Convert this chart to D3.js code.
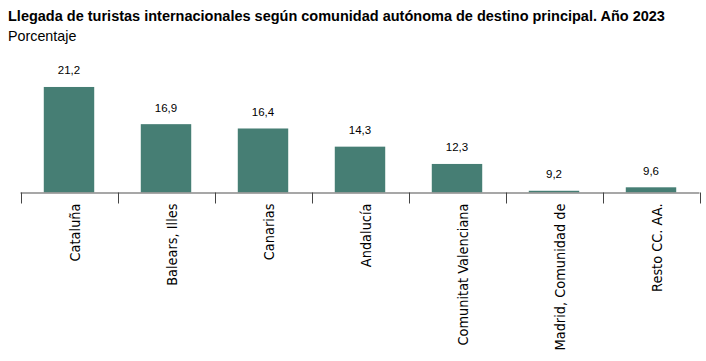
<!DOCTYPE html>
<html>
<head>
<meta charset="utf-8">
<script src="https://cdn.jsdelivr.net/npm/d3@7"></script>
<style>
  body { margin: 0; background: #fff; }
  svg { display: block; }
</style>
</head>
<body>
<div id="chart"></div>
<script>
const WIDTH = 706;
const HEIGHT = 361;

// data
const categories = ["Cataluña", "Balears, Illes", "Canarias", "Andalucía",
    "Comunitat Valenciana", "Madrid, Comunidad de", "Resto CC. AA."];
const values = [21.2, 16.9, 16.4, 14.3, 12.3, 9.2, 9.6];
const valueLabels = ["21,2", "16,9", "16,4", "14,3", "12,3", "9,2", "9,6"];

const TITLE = "Llegada de turistas internacionales según comunidad autónoma de destino principal. Año 2023";
const SUBTITLE = "Porcentaje";

const svg = d3.select("#chart")
    .append("svg")
    .attr("width", WIDTH)
    .attr("height", HEIGHT);

// title + subtitle
svg.append("text")
    .attr("x", 8)
    .attr("y", 20.5)
    .attr("font-family", "Liberation Sans, Arial, sans-serif")
    .attr("font-weight", "bold")
    .attr("font-size", "14.5px")
    .attr("fill", "#000")
    .text(TITLE);

svg.append("text")
    .attr("x", 8)
    .attr("y", 40.5)
    .attr("font-family", "Liberation Sans, Arial, sans-serif")
    .attr("font-size", "14.3px")
    .attr("fill", "#000")
    .text(SUBTITLE);

// scales (axis starts at 9, not zero)
const X_SCALE = d3.scaleBand()
    .domain(categories)
    .range([20.5, 699.5])
    .paddingInner(0.48)
    .paddingOuter(0.24);

const BASE_Y = 192.5;
const Y_SCALE = d3.scaleLinear()
    .domain([9, 24])
    .range([BASE_Y, BASE_Y - 15 * 8.65]);

const step = X_SCALE.step();
const gap = X_SCALE.paddingInner() * step;

// bars
svg.selectAll(".bar")
    .data(values)
    .enter()
    .append("rect")
    .attr("class", "bar")
    .attr("x", (d, i) => X_SCALE(categories[i]))
    .attr("y", (d) => Y_SCALE(d))
    .attr("width", X_SCALE.bandwidth())
    .attr("height", (d) => BASE_Y - Y_SCALE(d))
    .attr("fill", "#467e74");

// value labels
svg.selectAll(".val")
    .data(values)
    .enter()
    .append("text")
    .attr("class", "val")
    .attr("x", (d, i) => X_SCALE(categories[i]) + X_SCALE.bandwidth() / 2)
    .attr("y", (d) => Y_SCALE(d) - 12.5)
    .attr("text-anchor", "middle")
    .attr("font-family", "Liberation Sans, Arial, sans-serif")
    .attr("font-size", "11.5px")
    .attr("fill", "#000")
    .text((d, i) => valueLabels[i]);

// x axis: baseline + ticks at band boundaries
const axis = svg.append("g").attr("class", "x-axis");
axis.append("line")
    .attr("x1", X_SCALE.range()[0])
    .attr("x2", X_SCALE.range()[1])
    .attr("y1", BASE_Y + 0.5)
    .attr("y2", BASE_Y + 0.5)
    .attr("stroke", "#8a8a8a")
    .attr("stroke-width", 1.5);

const tickX = categories.map((c) => X_SCALE(c) - gap / 2);
tickX.push(X_SCALE.range()[1]);
axis.selectAll(".tick")
    .data(tickX)
    .enter()
    .append("line")
    .attr("class", "tick")
    .attr("x1", (d) => Math.round(d) + 0.5)
    .attr("x2", (d) => Math.round(d) + 0.5)
    .attr("y1", BASE_Y)
    .attr("y2", BASE_Y + 11)
    .attr("stroke", "#444")
    .attr("stroke-width", 1);

// rotated category labels
axis.selectAll(".cat")
    .data(categories)
    .enter()
    .append("text")
    .attr("class", "cat")
    .attr("transform", (d) => "translate(" + (X_SCALE(d) + X_SCALE.bandwidth() / 2 + 6) + "," + (BASE_Y + 11) + ") rotate(-90)")
    .attr("text-anchor", "end")
    .attr("dy", "0.36em")
    .attr("font-family", "DejaVu Sans Condensed, DejaVu Sans, sans-serif")
    .attr("font-stretch", "condensed")
    .attr("font-size", "14.4px")
    .attr("fill", "#000")
    .text((d) => d);
</script>
</body>
</html>
